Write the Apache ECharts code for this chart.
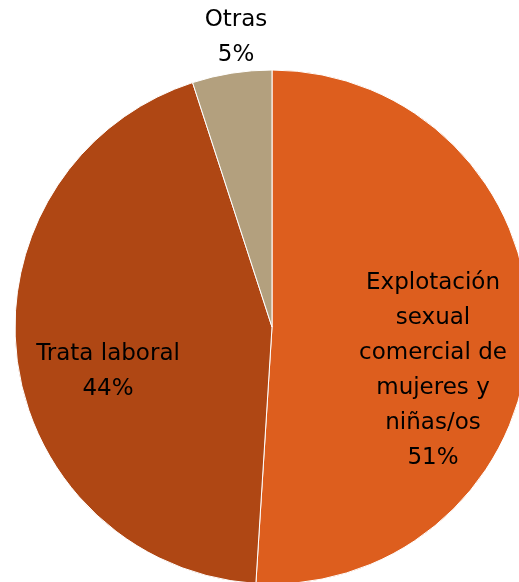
<!DOCTYPE html>
<html lang="es">
    <head>
        <meta charset="UTF-8" />
        <title>Trata</title>
        <script src="https://cdn.jsdelivr.net/npm/echarts@6/dist/echarts.min.js"></script>
        <style>
            html, body { margin: 0; padding: 0; background: #fff; }
            #chart { width: 519px; height: 582px; }
        </style>
    </head>
    <body>
        <div id="chart"></div>
        <script>
            var names = ['Explotación\nsexual\ncomercial de\nmujeres y\nniñas/os', 'Trata laboral', 'Otras'];
            var values = [51, 44, 5];
            var colors = ['#DD5E1E', '#AF4714', '#B3A07E'];
            // centros de las etiquetas (px)
            var labelPos = [[433, 371], [108, 372], [236, 38]];

            var myChart = echarts.init(document.getElementById('chart'));

            var seriesData = names.map(function (n, i) {
                return { name: n, value: values[i], itemStyle: { color: colors[i] } };
            });

            var option = {
                animation: false,
                series: [
                    {
                        type: 'pie',
                        center: [272, 327],
                        radius: 257,
                        startAngle: 90,
                        clockwise: true,
                        data: seriesData,
                        itemStyle: { borderColor: '#fff', borderWidth: 1 },
                        label: {
                            position: 'inside',
                            formatter: '{b}\n{d}%',
                            fontFamily: 'DejaVu Sans',
                            fontSize: 23,
                            lineHeight: 35,
                            color: '#000',
                            align: 'center'
                        },
                        labelLine: { show: false },
                        labelLayout: function (params) {
                            var p = labelPos[params.dataIndex];
                            return { x: p[0], y: p[1], align: 'center', verticalAlign: 'middle' };
                        }
                    }
                ]
            };
            myChart.setOption(option);
        </script>
    </body>
</html>
